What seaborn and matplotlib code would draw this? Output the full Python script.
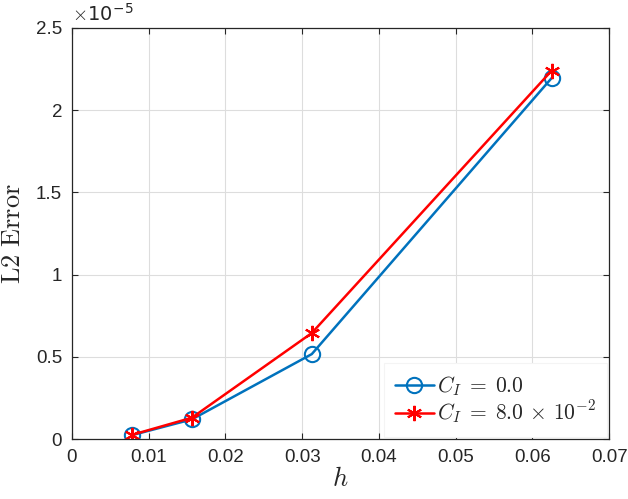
import numpy as np
import pandas as pd
import matplotlib
matplotlib.use('Agg')
import matplotlib.pyplot as plt
import seaborn as sns

# mesh sizes and errors
h = [1/128, 1/64, 1/32, 1/16]
err_c0 = [0.024e-5, 0.12e-5, 0.517e-5, 2.195e-5]
err_c8 = [0.026e-5, 0.13e-5, 0.645e-5, 2.24e-5]
labels = [r'$C_I\;=\;0.0$', r'$C_I\;=\;8.0\,\times\,10^{-2}$']

sns.set_style('white')
plt.rcParams['font.family'] = ['Liberation Sans', 'DejaVu Sans']
plt.rcParams['mathtext.fontset'] = 'cm'

fig = plt.figure(figsize=(6.28, 4.99), dpi=100)
ax = fig.add_axes([0.1146, 0.12, 0.8554, 0.824])

sns.lineplot(x=h, y=err_c0, ax=ax, color='#0072BD', lw=1.8, marker='o',
             markersize=11, markerfacecolor='none', markeredgecolor='#0072BD',
             markeredgewidth=1.5, label=labels[0])
sns.lineplot(x=h, y=err_c8, ax=ax, color='#FF0000', lw=1.8, marker=(6, 2, 0),
             markersize=11, markeredgecolor='#FF0000', markeredgewidth=1.5,
             label=labels[1])

ax.set_xlim(0, 0.07)
ax.set_ylim(0, 2.5e-5)
ax.set_xticks(np.arange(0, 0.071, 0.01))
ax.set_xticklabels(['0', '0.01', '0.02', '0.03', '0.04', '0.05', '0.06', '0.07'])
ax.set_yticks(np.arange(0, 2.51e-5, 0.5e-5))
ax.set_yticklabels(['0', '0.5', '1', '1.5', '2', '2.5'])
ax.text(0.0, 1.008, r'$\times$10$^{\mathregular{-5}}$', transform=ax.transAxes,
        fontsize=14, color='#262626', va='bottom', ha='left',
        family=['DejaVu Sans'])

ax.grid(True, color='#dddddd', lw=0.8)
ax.tick_params(direction='in', length=4, labelsize=13.5, colors='#262626',
               top=True, right=True, bottom=True, left=True, pad=7)
for s in ax.spines.values():
    s.set_color('#262626')
    s.set_linewidth(0.9)

ax.set_xlabel(r'$h$', fontsize=19, labelpad=1)
ax.set_ylabel(r'$\mathrm{L2\ Error}$', fontsize=19, labelpad=8)

leg = ax.legend(loc='lower right', fontsize=15.5, frameon=True, fancybox=False,
                edgecolor='#f4f4f4', framealpha=1, handlelength=1.8,
                borderpad=0.5, labelspacing=0.05, handletextpad=0.15,
                borderaxespad=0.1)
leg.get_frame().set_linewidth(0.8)

fig.savefig('out.png', dpi=100)
